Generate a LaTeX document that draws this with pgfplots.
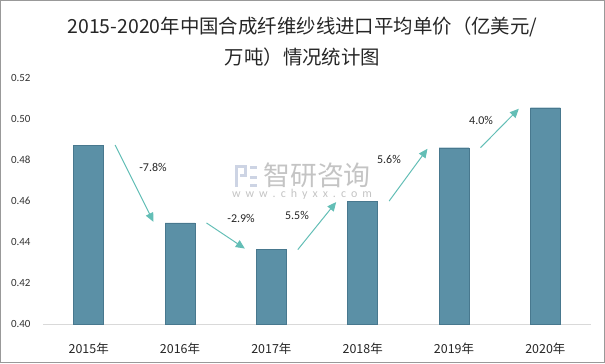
\documentclass[border=0pt]{standalone}
\usepackage{pgfplots}
\pgfplotsset{compat=1.18}
\usetikzlibrary{arrows.meta}
\usepackage{fontspec}
\setmainfont{Carlito}
\newfontfamily\cjk{Noto Sans CJK SC}
\definecolor{barc}{RGB}{91,144,166}
\definecolor{barl}{RGB}{72,120,142}
\definecolor{arr}{RGB}{99,190,182}
\definecolor{wm}{RGB}{196,196,196}
\definecolor{wmb}{RGB}{205,212,228}
\begin{document}
\begin{tikzpicture}[x=1bp,y=1bp]
\useasboundingbox (0,0) rectangle (605,363);
\draw[draw=black!40, line width=1bp] (0.5,0.5) rectangle (604.5,362.5);
% title
\node[font=\cjk\fontsize{19.5}{22}\selectfont, text=black!85] at (302.5,336) {2015-2020年中国合成纤维纱线进口平均单价（亿美元/};
\node[font=\cjk\fontsize{19.5}{22}\selectfont, text=black!85] at (302.5,306) {万吨）情况统计图};
% watermark
\draw[wmb, line width=3bp] (236,176) -- (236,197) -- (245,197) -- (245,188) -- (240,188);
\draw[wmb, line width=3bp] (250,196) -- (257,196) (250,186) -- (257,186) (250,178) -- (257,178);
\node[font=\cjk\fontsize{27}{30}\selectfont, text=wm] at (317,188) {智研咨询};
\node[font=\fontsize{12}{13}\selectfont, text=wm, inner sep=0pt] at (302,169) {\hbox to 140bp{w\hfil w\hfil w\hfil .\hfil c\hfil h\hfil y\hfil x\hfil x\hfil .\hfil c\hfil o\hfil m}};
\begin{axis}[
  at={(43bp,39bp)}, anchor=south west,
  scale only axis, width=548bp, height=246bp,
  xmin=-0.5, xmax=5.5, ymin=0.40, ymax=0.52,
  axis x line*=bottom, axis y line*=left,
  y axis line style={draw=none},
  x axis line style={draw=black!15, line width=1bp, -},
  major tick length=0pt, tick style={draw=none},
  ytick={0.40,0.42,0.44,0.46,0.48,0.50,0.52},
  yticklabel style={/pgf/number format/fixed, /pgf/number format/fixed zerofill, /pgf/number format/precision=2, /pgf/number format/assume math mode=true, font=\fontsize{11}{13}\selectfont, text=black!80, anchor=east, xshift=-9bp},
  xtick={0,1,2,3,4,5},
  xticklabels={2015年,2016年,2017年,2018年,2019年,2020年},
  xticklabel style={font=\cjk\fontsize{12.5}{14}\selectfont, text=black!85, anchor=north, yshift=-15bp},
  ybar, bar width=30bp,
  clip=false,
]
\addplot[fill=barc, draw=barl, line width=0.4bp] coordinates {(0,0.4873) (1,0.4493) (2,0.4363) (3,0.4600) (4,0.4860) (5,0.5055)};
\draw[arr, line width=1bp, -{Triangle[length=9bp,width=8bp]}] (axis cs:0.29,0.4873) -- (axis cs:0.71,0.4498);
\draw[arr, line width=1bp, -{Triangle[length=9bp,width=8bp]}] (axis cs:1.29,0.4493) -- (axis cs:1.71,0.4368);
\draw[arr, line width=1bp, -{Triangle[length=9bp,width=8bp]}] (axis cs:2.29,0.4363) -- (axis cs:2.71,0.4595);
\draw[arr, line width=1bp, -{Triangle[length=9bp,width=8bp]}] (axis cs:3.29,0.4600) -- (axis cs:3.71,0.4855);
\draw[arr, line width=1bp, -{Triangle[length=9bp,width=8bp]}] (axis cs:4.29,0.4860) -- (axis cs:4.71,0.5050);
\node[font=\fontsize{12}{13}\selectfont, text=black!85] at (axis cs:0.704,0.4766) {-7.8\%};
\node[font=\fontsize{12}{13}\selectfont, text=black!85] at (axis cs:1.668,0.4517) {-2.9\%};
\node[font=\fontsize{12}{13}\selectfont, text=black!85] at (axis cs:2.281,0.4527) {5.5\%};
\node[font=\fontsize{12}{13}\selectfont, text=black!85] at (axis cs:3.288,0.4805) {5.6\%};
\node[font=\fontsize{12}{13}\selectfont, text=black!85] at (axis cs:4.296,0.4995) {4.0\%};
\end{axis}
\end{tikzpicture}
\end{document}
